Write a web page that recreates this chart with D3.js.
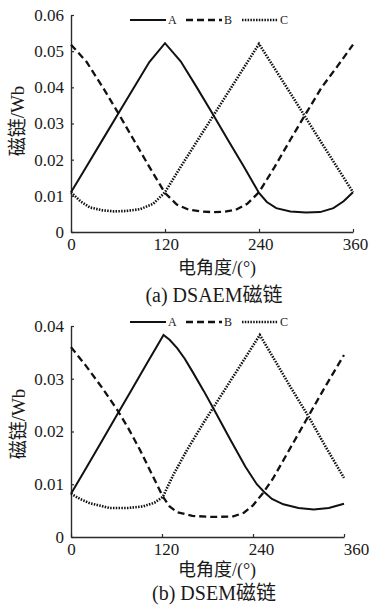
<!DOCTYPE html>
<html>
<head>
<meta charset="utf-8">
<script src="https://cdn.jsdelivr.net/npm/d3@7"></script>
<style>
  body { margin: 0; background: #fff; }
  svg { display: block; }
  text { fill: #1a1a1a; }
</style>
</head>
<body>
<svg id="fig" width="369" height="606"></svg>
<script>
// Flux linkage of the three phases versus electrical angle, two machines.
const angleTicks = [0, 120, 240, 360];
const angleTickLabels = ["0", "120", "240", "360"];
const fluxTicksDSAEM = [0, 0.01, 0.02, 0.03, 0.04, 0.05, 0.06];
const fluxTickLabelsDSAEM = ["0", "0.01", "0.02", "0.03", "0.04", "0.05", "0.06"];
const fluxTicksDSEM = [0, 0.01, 0.02, 0.03, 0.04];
const fluxTickLabelsDSEM = ["0", "0.01", "0.02", "0.03", "0.04"];
const phaseNames = ["A", "B", "C"];

// (a) DSAEM: [electrical angle in degrees, flux linkage in Wb]
const dsaemA = [[0,0.011],[20,0.0182],[40,0.0254],[60,0.0326],[80,0.0398],[100,0.047],[120,0.0522],
  [140,0.0472],[160,0.0402],[180,0.0330],[200,0.0256],[220,0.0183],[240,0.0108],[250,0.0083],
  [262,0.0066],[280,0.0057],[300,0.0054],[318,0.0055],[335,0.0066],[348,0.0085],[360,0.011]];
const dsaemB = [[0,0.0518],[20,0.047],[40,0.0402],[60,0.0330],[80,0.0255],[100,0.018],[120,0.0108],
  [135,0.0076],[150,0.0062],[165,0.0057],[180,0.0055],[195,0.0056],[210,0.0061],[225,0.0078],
  [240,0.011],[260,0.018],[280,0.0255],[300,0.0328],[320,0.0400],[340,0.0458],[360,0.0518]];
const dsaemC = [[0,0.011],[12,0.0085],[24,0.0068],[40,0.006],[55,0.0057],[70,0.0058],[88,0.0063],
  [105,0.0078],[120,0.011],[140,0.018],[160,0.0248],[180,0.0316],[200,0.0384],[220,0.0452],
  [240,0.052],[260,0.0452],[280,0.0384],[300,0.0315],[320,0.0246],[340,0.0178],[360,0.011]];

// (b) DSEM
const dsemA = [[0,0.0082],[20,0.0131],[40,0.018],[60,0.023],[80,0.0279],[100,0.0329],[122,0.0383],
  [130,0.0374],[140,0.0358],[150,0.0338],[160,0.0314],[175,0.0277],[190,0.0238],[210,0.0185],
  [230,0.0133],[245,0.0100],[255,0.0085],[265,0.0072],[280,0.0062],[300,0.0055],[320,0.0052],
  [340,0.0055],[360,0.0063]];
const dsemB = [[0,0.036],[20,0.0324],[40,0.0285],[61,0.0241],[76,0.0205],[91,0.0165],[106,0.0121],
  [121,0.0077],[130,0.0058],[140,0.0047],[160,0.004],[187,0.0038],[214,0.0039],[228,0.0046],
  [240,0.006],[253,0.0083],[266,0.011],[285,0.0158],[313,0.0229],[336,0.0287],[360,0.0345]];
const dsemC = [[0,0.0082],[12,0.0072],[25,0.0064],[51,0.0055],[75,0.0055],[95,0.0058],[110,0.0065],
  [121,0.0076],[135,0.0118],[153,0.0165],[175,0.0217],[200,0.0273],[225,0.0329],[249,0.0383],
  [270,0.0332],[290,0.0283],[313,0.0229],[335,0.0173],[360,0.0112]];

const serif = "'Liberation Serif','Times New Roman','Noto Sans CJK SC',serif";
const lineStyles = [
  { dash: null, width: 2.0 },
  { dash: "7,4", width: 2.3 },
  { dash: "1.5,1.3", width: 2.6 }
];

const svg = d3.select("#fig");

function drawPanel(p) {
  const x = d3.scaleLinear().domain([0, 360]).range([p.left, p.right]);
  const xLab = d3.scaleLinear().domain([0, 360]).range([p.left, p.labelRight]);
  const y = d3.scaleLinear().domain([0, p.yMax]).range([p.bottom, p.top]);
  const g = svg.append("g");

  // axes
  const yAxis = d3.axisLeft(y).tickValues(p.yTicks)
    .tickFormat((d, i) => p.yLabels[i]).tickSizeInner(-3).tickSizeOuter(0).tickPadding(7);
  const yg = g.append("g").attr("transform", `translate(${p.left},0)`).call(yAxis);
  yg.selectAll("text").style("font-family", serif).style("font-size", "17px");

  const xAxis = d3.axisBottom(x).tickValues(angleTicks)
    .tickFormat("").tickSizeInner(-3).tickSizeOuter(0);
  g.append("g").attr("transform", `translate(0,${p.bottom})`).call(xAxis);

  const xLabAxis = d3.axisBottom(xLab).tickValues(angleTicks)
    .tickFormat((d, i) => angleTickLabels[i]).tickSize(0).tickPadding(6);
  const xl = g.append("g").attr("transform", `translate(0,${p.bottom})`).call(xLabAxis);
  xl.select(".domain").remove();
  xl.selectAll("text").style("font-family", serif).style("font-size", "17px");

  g.selectAll(".domain").attr("stroke", "#2a2a2a").attr("stroke-width", 1.4);
  g.selectAll(".tick line").attr("stroke", "#2a2a2a").attr("stroke-width", 1.2);

  // curves
  const line = d3.line().x(d => x(d[0])).y(d => y(d[1]));
  p.series.forEach((s, i) => {
    g.append("path").datum(s)
      .attr("fill", "none").attr("stroke", "#111")
      .attr("stroke-width", lineStyles[i].width)
      .attr("stroke-dasharray", lineStyles[i].dash)
      .attr("stroke-linejoin", "miter")
      .attr("d", line);
  });

  // legend
  const lg = g.append("g").attr("transform", `translate(0,${p.legendY})`);
  phaseNames.forEach((name, i) => {
    const x0 = 130 + i * 56;
    lg.append("line").attr("x1", x0).attr("x2", x0 + 36).attr("y1", 0).attr("y2", 0)
      .attr("stroke", "#111").attr("stroke-width", lineStyles[i].width)
      .attr("stroke-dasharray", lineStyles[i].dash);
    lg.append("text").attr("x", x0 + 38).attr("y", 4)
      .style("font-family", serif).style("font-size", "12px").text(name);
  });

  // labels
  g.append("text").attr("transform", `translate(${p.yLabelX},${p.yLabelY}) rotate(-90)`)
    .attr("text-anchor", "middle").attr("dominant-baseline", "central")
    .style("font-family", serif).style("font-size", "19px").text("磁链/Wb");
  g.append("text").attr("x", 217).attr("y", p.xLabelY).attr("text-anchor", "middle")
    .style("font-family", serif).style("font-size", "18px").text("电角度/(°)");
  g.append("text").attr("x", 214).attr("y", p.titleY).attr("text-anchor", "middle")
    .style("font-family", serif).style("font-size", "20px").text(p.title);
}

drawPanel({
  left: 71, right: 353, labelRight: 355, top: 15, bottom: 232, yMax: 0.06,
  yTicks: fluxTicksDSAEM, yLabels: fluxTickLabelsDSAEM,
  series: [dsaemA, dsaemB, dsaemC], legendY: 20,
  yLabelX: 17, yLabelY: 121, xLabelY: 274, titleY: 302, title: "(a) DSAEM磁链"
});
drawPanel({
  left: 71, right: 344, labelRight: 356, top: 326, bottom: 537, yMax: 0.04,
  yTicks: fluxTicksDSEM, yLabels: fluxTickLabelsDSEM,
  series: [dsemA, dsemB, dsemC], legendY: 322,
  yLabelX: 18, yLabelY: 424, xLabelY: 576, titleY: 600, title: "(b) DSEM磁链"
});
</script>
</body>
</html>
